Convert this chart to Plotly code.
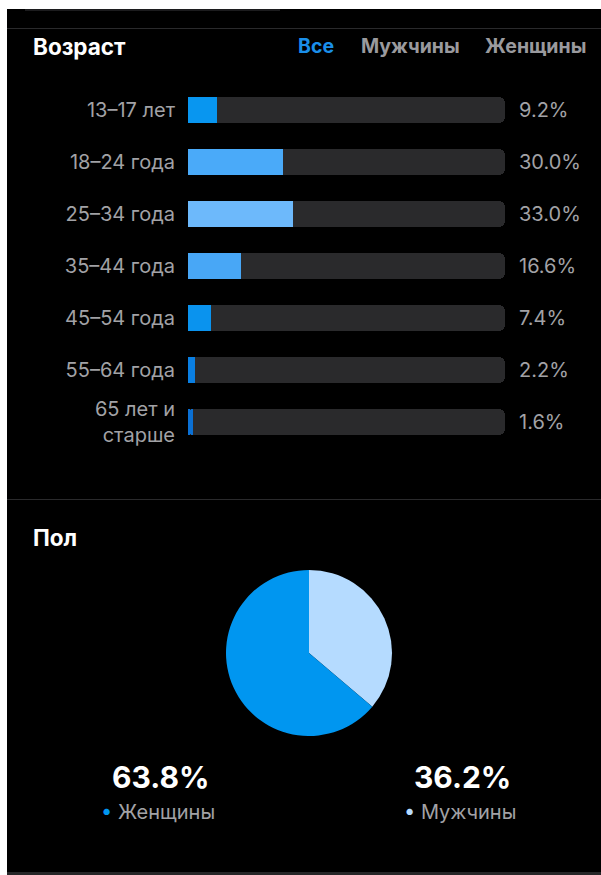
import plotly.graph_objects as go

W, H = 601, 875

# ---- data ----
age_groups = ["13–17 лет", "18–24 года", "25–34 года", "35–44 года",
              "45–54 года", "55–64 года", "65 лет и<br>старше"]
age_share = [9.2, 30.0, 33.0, 16.6, 7.4, 2.2, 1.6]
age_colors = ["#0896f0", "#4aaaf9", "#6db9fb", "#48a7f6",
              "#0a93ee", "#0a7fe2", "#0b70d4"]
TRACK_MAX = 100

gender_labels = ["Мужчины", "Женщины"]
gender_share = [36.2, 63.8]
gender_colors = ["#b5dbff", "#0096f0"]

filter_tabs = ["Все", "Мужчины", "Женщины"]

FONT = "Inter, Roboto, 'Noto Sans', sans-serif"
GRAY = "#a2a2a6"


def px_x(x):
    return x / W


def px_y(y):
    return 1 - y / H


fig = go.Figure()

# track bars (base axis)
fig.add_trace(go.Bar(
    y=age_groups, x=[TRACK_MAX] * len(age_groups), orientation="h",
    marker=dict(color="#2a2a2c", cornerradius=6, line=dict(width=0)),
    width=0.5, xaxis="x", yaxis="y", hoverinfo="skip", showlegend=False))

# value bars: rounded bar + square right end patch
fig.add_trace(go.Bar(
    y=age_groups, x=age_share, orientation="h",
    marker=dict(color=age_colors, cornerradius=6, line=dict(width=0)),
    width=0.5, xaxis="x", yaxis="y2", showlegend=False))
fig.add_trace(go.Bar(
    y=age_groups, x=[v / 2 for v in age_share], base=[v / 2 for v in age_share],
    orientation="h",
    marker=dict(color=age_colors, line=dict(width=0)),
    width=0.5, xaxis="x", yaxis="y2", hoverinfo="skip", showlegend=False))

# pie
fig.add_trace(go.Pie(
    labels=gender_labels, values=gender_share, sort=False,
    direction="clockwise", rotation=0,
    marker=dict(colors=gender_colors, line=dict(width=0)),
    textinfo="none", showlegend=False,
    domain=dict(x=[px_x(226), px_x(392)], y=[px_y(736), px_y(570)])))

n = len(age_groups)
step = 52
top = 110 - step / 2
bottom = top + n * step
ydom = [px_y(bottom), px_y(top)]

common_y = dict(type="category", categoryorder="array", categoryarray=age_groups,
                range=[n - 0.5, -0.5], domain=ydom, showgrid=False,
                zeroline=False, showline=False, ticks="", fixedrange=True)

fig.update_layout(
    width=W, height=H, margin=dict(l=0, r=0, t=0, b=0),
    paper_bgcolor="#ffffff", plot_bgcolor="rgba(0,0,0,0)",
    barmode="overlay", bargap=0,
    font=dict(family=FONT, color=GRAY, size=20),
    xaxis=dict(domain=[px_x(188), px_x(505)], range=[0, TRACK_MAX],
               visible=False, fixedrange=True),
    yaxis=dict(**common_y, side="left", ticklabelstandoff=12,
               tickfont=dict(size=20, color=GRAY, family=FONT)),
    yaxis2=dict(**common_y, side="right", overlaying="y", anchor="x",
                tickmode="array", tickvals=age_groups,
                ticktext=[f"{v:.1f}%" for v in age_share],
                ticklabelstandoff=13,
                tickfont=dict(size=20, color=GRAY, family=FONT)),
)

shapes = [
    # black panel
    dict(type="rect", xref="paper", yref="paper", x0=px_x(7), x1=1,
         y0=px_y(872), y1=px_y(9), fillcolor="#000000", line=dict(width=0), layer="below"),
    # bottom strip
    dict(type="rect", xref="paper", yref="paper", x0=px_x(7), x1=1,
         y0=0, y1=px_y(872), fillcolor="#262628", line=dict(width=0), layer="below"),
    # top small element
    dict(type="rect", xref="paper", yref="paper", x0=px_x(25), x1=px_x(280),
         y0=px_y(11), y1=px_y(9), fillcolor="#1c1c1e", line=dict(width=0), layer="below"),
    # separators
    dict(type="line", xref="paper", yref="paper", x0=px_x(7), x1=1,
         y0=px_y(28.5), y1=px_y(28.5), line=dict(color="#2a2a2c", width=1), layer="below"),
    dict(type="line", xref="paper", yref="paper", x0=px_x(7), x1=1,
         y0=px_y(499.5), y1=px_y(499.5), line=dict(color="#2a2a2c", width=1), layer="below"),
]
fig.update_layout(shapes=shapes)

ann = []


def add_text(text, x, y, size, color, bold=False, anchor="left"):
    ann.append(dict(text=f"<b>{text}</b>" if bold else text,
                    x=px_x(x), y=px_y(y), xref="paper", yref="paper",
                    xanchor=anchor, yanchor="middle", showarrow=False,
                    font=dict(size=size, color=color, family=FONT)))


add_text("Возраст", 31, 46, 22.5, "#ffffff", bold=True)
tab_x = [296, 359, 483]
tab_colors = ["#1a8fea", "#9a9a9e", "#9a9a9e"]
for t, x, c in zip(filter_tabs, tab_x, tab_colors):
    add_text(t, x, 46, 19.5, c, bold=True)

add_text("Пол", 31, 537, 22.5, "#ffffff", bold=True)

# gender summaries (Женщины left, Мужчины right)
summary = [(1, 160, 158), (0, 462, 460)]
for idx, cx_big, cx_small in summary:
    add_text(f"{gender_share[idx]:.1f}%", cx_big, 777, 30, "#ffffff", bold=True, anchor="center")
    add_text(f"<span style='color:{gender_colors[idx]}'>•</span> {gender_labels[idx]}",
             cx_small, 812, 20, GRAY, anchor="center")

fig.update_layout(annotations=ann)

fig.write_html("out.html")
